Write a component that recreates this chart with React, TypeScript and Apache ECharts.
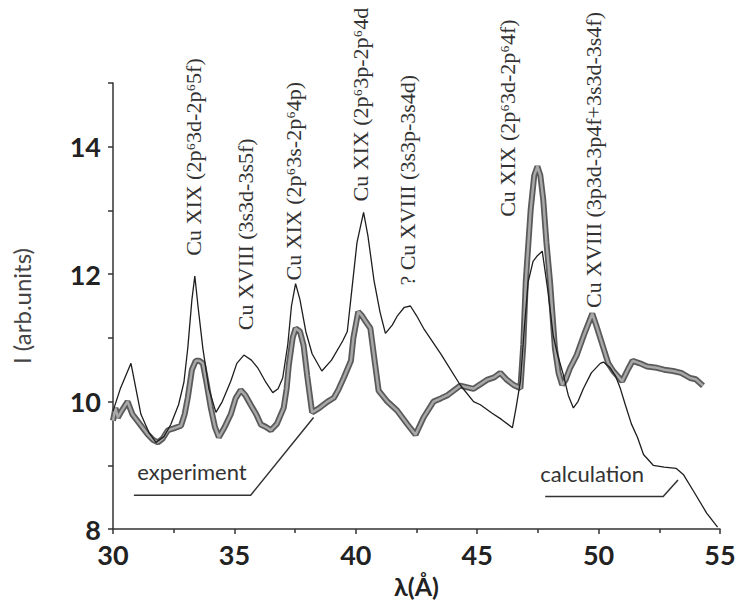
import React, { useEffect, useRef } from "react";
import * as echarts from "echarts";

const calcX = [30.0, 30.3, 30.74, 31.15, 31.5, 31.77, 32.1, 32.38, 32.7, 32.92, 33.08, 33.25, 33.37, 33.5, 33.7, 33.95, 34.24, 34.5, 34.85, 35.1, 35.39, 35.7, 35.96, 36.3, 36.58, 36.8, 36.99, 37.2, 37.35, 37.52, 37.7, 37.94, 38.2, 38.6, 39.0, 39.46, 39.65, 39.85, 40.05, 40.32, 40.5, 40.75, 41.0, 41.22, 41.5, 41.72, 42.0, 42.25, 42.5, 42.79, 43.5, 44.3, 44.85, 45.13, 45.6, 46.0, 46.45, 46.6, 46.78, 46.95, 47.1, 47.3, 47.48, 47.68, 47.9, 48.13, 48.3, 48.55, 48.75, 48.96, 49.15, 49.37, 49.7, 50.07, 50.2, 50.48, 50.7, 50.9, 51.1, 51.35, 51.6, 51.85, 52.25, 52.7, 53.2, 53.5, 53.9, 54.45, 54.9];
const calcY = [9.85, 10.2, 10.6, 9.8, 9.5, 9.36, 9.45, 9.64, 9.95, 10.3, 10.84, 11.6, 11.97, 11.5, 10.84, 10.2, 9.83, 10.0, 10.32, 10.6, 10.73, 10.65, 10.53, 10.3, 10.14, 10.2, 10.37, 10.9, 11.5, 11.85, 11.6, 11.1, 10.75, 10.48, 10.65, 10.95, 11.1, 11.8, 12.5, 12.97, 12.6, 11.9, 11.4, 11.07, 11.2, 11.35, 11.48, 11.5, 11.35, 11.15, 10.75, 10.26, 10.0, 9.95, 9.82, 9.72, 9.59, 9.9, 10.32, 11.2, 11.88, 12.2, 12.29, 12.36, 11.77, 11.04, 10.75, 10.42, 10.1, 9.9, 10.0, 10.2, 10.45, 10.6, 10.62, 10.53, 10.4, 10.2, 9.95, 9.65, 9.44, 9.17, 9.0, 8.97, 8.95, 8.85, 8.6, 8.25, 8.03];

const expX = [30.0, 30.1, 30.2, 30.35, 30.6, 30.8, 31.0, 31.2, 31.44, 31.65, 31.85, 32.05, 32.26, 32.5, 32.8, 32.95, 33.08, 33.25, 33.41, 33.55, 33.7, 33.85, 34.03, 34.2, 34.36, 34.6, 34.85, 35.05, 35.26, 35.45, 35.67, 35.9, 36.09, 36.3, 36.5, 36.75, 37.03, 37.15, 37.24, 37.4, 37.52, 37.7, 37.85, 38.0, 38.2, 38.5, 38.84, 39.1, 39.3, 39.5, 39.8, 39.9, 40.1, 40.25, 40.4, 40.6, 40.8, 40.94, 41.3, 41.7, 42.13, 42.46, 42.79, 43.2, 43.5, 43.78, 44.3, 44.85, 45.4, 45.7, 45.95, 46.2, 46.5, 46.78, 46.9, 47.0, 47.2, 47.35, 47.48, 47.6, 47.72, 47.85, 48.0, 48.2, 48.35, 48.5, 48.65, 48.83, 49.1, 49.4, 49.74, 49.9, 50.2, 50.4, 50.6, 50.97, 51.2, 51.4, 51.7, 52.0, 52.4, 52.7, 53.07, 53.4, 53.77, 54.0, 54.3];
const expY = [9.7, 9.9, 9.75, 9.85, 10.0, 9.8, 9.7, 9.6, 9.48, 9.4, 9.36, 9.42, 9.55, 9.58, 9.62, 9.8, 10.06, 10.5, 10.64, 10.64, 10.6, 10.3, 9.9, 9.6, 9.44, 9.6, 9.8, 10.05, 10.18, 10.1, 9.95, 9.8, 9.64, 9.6, 9.55, 9.65, 9.9, 10.2, 10.57, 11.0, 11.15, 11.1, 10.88, 10.4, 9.83, 9.9, 10.0, 10.06, 10.2, 10.37, 10.64, 11.0, 11.41, 11.35, 11.26, 11.15, 10.57, 10.17, 10.0, 9.86, 9.64, 9.48, 9.75, 10.0, 10.05, 10.1, 10.25, 10.2, 10.34, 10.38, 10.45, 10.35, 10.26, 10.21, 10.9, 11.88, 13.0, 13.55, 13.69, 13.55, 13.17, 12.5, 11.88, 10.84, 10.45, 10.26, 10.35, 10.53, 10.73, 11.05, 11.38, 11.2, 10.84, 10.6, 10.48, 10.32, 10.5, 10.64, 10.6, 10.55, 10.53, 10.5, 10.48, 10.45, 10.37, 10.35, 10.25];

const xTicks = { min: 30, max: 55, interval: 5 };
const yTicks = { min: 8, max: 15, interval: 1 };

const annotationTexts = [
  "Cu XIX (2p⁶3d-2p⁶5f)",
  "Cu XVIII (3s3d-3s5f)",
  "Cu XIX (2p⁶3s-2p⁶4p)",
  "Cu XIX (2p⁶3p-2p⁶4d",
  "? Cu XVIII (3s3p-3s4d)",
  "Cu XIX (2p⁶3d-2p⁶4f)",
  "Cu XVIII (3p3d-3p4f+3s3d-3s4f)",
];
const annotationX = [33.33, 35.47, 37.44, 40.2, 42.13, 46.24, 49.78];
const annotationY = [12.29, 11.12, 11.9, 13.14, 11.82, 12.9, 11.47];

const legendNames = ["experiment", "calculation"];
const legendTextPos = [[31.0, 8.9], [47.6, 8.87]];
const legendPointer = [
  [[30.86, 8.53], [35.67, 8.53], [38.26, 9.75]],
  [[47.8, 8.51], [52.66, 8.51], [53.27, 8.77]],
];

export default function App() {
  const ref = useRef<HTMLDivElement>(null);
  useEffect(() => {
    if (!ref.current) return;
    const chart = echarts.init(ref.current, null, { renderer: "svg" });
    const zip = (xs: number[], ys: number[]) => xs.map((x, i) => [x, ys[i]]);
    const expData = zip(expX, expY);
    const calcData = zip(calcX, calcY);
    const labelFont = { fontFamily: "Lato", fontWeight: "bold" as const, fontSize: 27, color: "#222" };
    chart.setOption({
      animation: false,
      backgroundColor: "#fff",
      grid: { left: 113, right: 19, top: 83, bottom: 70, containLabel: false },
      xAxis: {
        type: "value",
        min: xTicks.min,
        max: xTicks.max,
        interval: xTicks.interval,
        name: "λ(Å)",
        nameLocation: "middle",
        nameGap: 44,
        nameTextStyle: { fontFamily: "Lato", fontWeight: "bold", fontSize: 25, color: "#222" },
        axisLine: { show: true, onZero: false, lineStyle: { color: "#333", width: 1.5 } },
        axisTick: { show: true, length: 5, lineStyle: { color: "#333", width: 1.5 } },
        minorTick: { show: true, splitNumber: 2, length: 4, lineStyle: { color: "#333", width: 1.5 } },
        splitLine: { show: false },
        axisLabel: { ...labelFont, margin: 12 },
      },
      yAxis: {
        type: "value",
        min: yTicks.min,
        max: yTicks.max,
        interval: yTicks.interval,
        name: "I (arb.units)",
        nameLocation: "middle",
        nameRotate: 90,
        nameGap: 80,
        nameTextStyle: { fontFamily: "Lato", fontSize: 24, color: "#444" },
        axisLine: { show: true, onZero: false, lineStyle: { color: "#333", width: 1.5 } },
        axisTick: { show: true, length: 5, lineStyle: { color: "#333", width: 1.5 } },
        splitLine: { show: false },
        axisLabel: {
          ...labelFont,
          margin: 12,
          formatter: (v: number) => (v % 2 === 0 ? String(v) : ""),
        },
      },
      series: [
        {
          type: "line",
          name: "experiment-outline",
          data: expData,
          showSymbol: false,
          symbol: "none",
          lineStyle: { color: "#5a5a5a", width: 6 },
          z: 2,
        },
        {
          type: "line",
          name: "experiment",
          data: expData,
          showSymbol: false,
          symbol: "none",
          lineStyle: { color: "#a8a8a8", width: 2.5 },
          z: 3,
        },
        {
          type: "line",
          name: "calculation",
          data: calcData,
          showSymbol: false,
          symbol: "none",
          lineStyle: { color: "#1e1e1e", width: 1.3 },
          z: 4,
        },
      ],
    });

    const toPx = (p: number[]) => chart.convertToPixel({ xAxisIndex: 0, yAxisIndex: 0 }, p) as number[];
    const graphics: any[] = [];
    annotationTexts.forEach((t, i) => {
      const [px, py] = toPx([annotationX[i], annotationY[i]]);
      graphics.push({
        type: "text",
        x: px,
        y: py,
        rotation: Math.PI / 2,
        z: 10,
        style: {
          text: t,
          fill: "#333",
          font: '22px "Liberation Serif", "DejaVu Serif", serif',
          textAlign: "left",
          textVerticalAlign: "middle",
          align: "left",
          verticalAlign: "middle",
        },
      });
    });
    legendNames.forEach((n, i) => {
      const [px, py] = toPx(legendTextPos[i]);
      graphics.push({
        type: "text",
        x: px,
        y: py,
        z: 10,
        style: {
          text: n,
          fill: "#333",
          font: '22px Lato, "Open Sans", sans-serif',
          textAlign: "left",
          textVerticalAlign: "middle",
          align: "left",
          verticalAlign: "middle",
        },
      });
      graphics.push({
        type: "polyline",
        z: 10,
        shape: { points: legendPointer[i].map(toPx) },
        style: { stroke: "#333", lineWidth: 1.5, fill: "none" },
      });
    });
    chart.setOption({ graphic: { elements: graphics } });
    return () => chart.dispose();
  }, []);
  return <div ref={ref} style={{ width: 739, height: 603, position: "absolute", left: 0, top: 0 }} />;
}
